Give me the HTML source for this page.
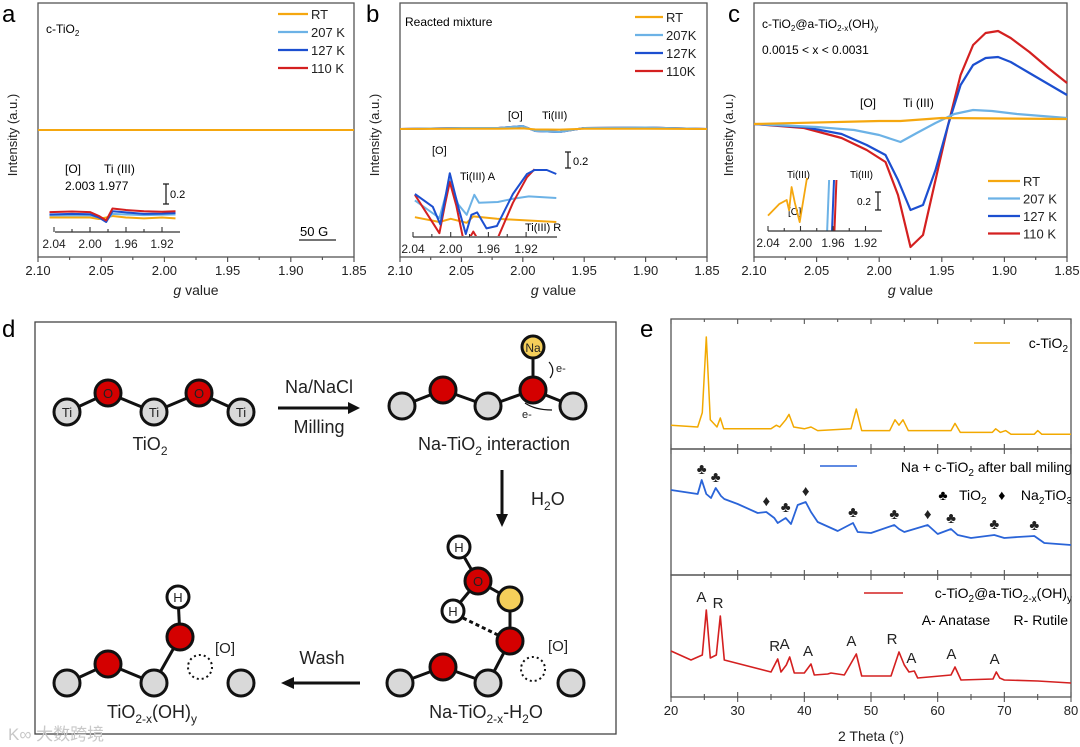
<!DOCTYPE html>
<html><head><meta charset="utf-8"><style>
body{margin:0;background:#fff}
svg{display:block;font-family:"Liberation Sans","Noto Sans CJK SC",sans-serif}
.pre{white-space:pre}
</style></head><body>
<svg id="fig" width="1080" height="747" viewBox="0 0 1080 747" xmlns="http://www.w3.org/2000/svg">
<g id="static">
<text x="2" y="22" font-size="24">a</text>
<text x="366" y="22" font-size="24">b</text>
<text x="728" y="22" font-size="24">c</text>
<text x="2" y="337" font-size="24">d</text>
<text x="640" y="337" font-size="24">e</text>

<text x="46" y="33" font-size="12">c-TiO<tspan font-size="8" dy="3">2</tspan></text>
<text x="65" y="173" font-size="12">[O]</text>
<text x="104" y="173" font-size="12">Ti (III)</text>
<text x="65" y="190" font-size="12">2.003 1.977</text>
<g stroke="#222" stroke-width="1.3"><line x1="166" y1="184" x2="166" y2="204"/><line x1="163" y1="184" x2="169" y2="184"/><line x1="163" y1="204" x2="169" y2="204"/></g>
<text x="170" y="198" font-size="11">0.2</text>
<text x="300" y="236" font-size="13">50 G</text>
<line x1="299" y1="240" x2="336" y2="240" stroke="#222" stroke-width="1.2"/>

<text x="405" y="26" font-size="12">Reacted mixture</text>
<text x="508" y="119" font-size="11">[O]</text>
<text x="542" y="119" font-size="11">Ti(III)</text>
<text x="432" y="154" font-size="11">[O]</text>
<text x="460" y="180" font-size="11">Ti(III) A</text>
<text x="525" y="231" font-size="11">Ti(III) R</text>
<g stroke="#222" stroke-width="1.3"><line x1="568" y1="152" x2="568" y2="168"/><line x1="565" y1="152" x2="571" y2="152"/><line x1="565" y1="168" x2="571" y2="168"/></g>
<text x="573" y="165" font-size="11">0.2</text>

<text x="762" y="28" font-size="12">c-TiO<tspan font-size="8" dy="3">2</tspan><tspan dy="-3">@a-TiO</tspan><tspan font-size="8" dy="3">2-x</tspan><tspan dy="-3">(OH)</tspan><tspan font-size="8" dy="3">y</tspan></text>
<text x="762" y="54" font-size="12">0.0015 &lt; x &lt; 0.0031</text>
<text x="860" y="107" font-size="12">[O]</text>
<text x="903" y="107" font-size="12">Ti (III)</text>
<text x="787" y="178" font-size="10">Ti(III)</text>
<text x="788" y="215" font-size="10">[O]</text>
<text x="850" y="178" font-size="10">Ti(III)</text>
<text x="857" y="205" font-size="10">0.2</text>
<g stroke="#222" stroke-width="1.3"><line x1="878" y1="192" x2="878" y2="210"/><line x1="875" y1="192" x2="881" y2="192"/><line x1="875" y1="210" x2="881" y2="210"/></g>

<rect x="35" y="322" width="581" height="412" fill="none" stroke="#444" stroke-width="1.3"/>
<g id="scheme" stroke="#111" stroke-width="3">
 <g>
  <line x1="67" y1="412" x2="108" y2="393"/><line x1="108" y1="393" x2="154" y2="412"/><line x1="154" y1="412" x2="199" y2="393"/><line x1="199" y1="393" x2="241" y2="412"/>
  <circle cx="67" cy="412" r="13" fill="#d9d9d9"/><circle cx="154" cy="412" r="13" fill="#d9d9d9"/><circle cx="241" cy="412" r="13" fill="#d9d9d9"/>
  <circle cx="108" cy="393" r="13" fill="#d40000"/><circle cx="199" cy="393" r="13" fill="#d40000"/>
 </g>
 <g font-size="13" fill="#222" stroke="none" text-anchor="middle">
  <text x="67" y="417">Ti</text><text x="154" y="417">Ti</text><text x="241" y="417">Ti</text>
  <text x="108" y="398">O</text><text x="199" y="398">O</text>
 </g>
 <g>
  <line x1="402" y1="406" x2="443" y2="390"/><line x1="443" y1="390" x2="488" y2="406"/><line x1="488" y1="406" x2="533" y2="390"/><line x1="533" y1="390" x2="573" y2="406"/><line x1="533" y1="390" x2="533" y2="348"/>
  <circle cx="402" cy="406" r="13" fill="#d9d9d9"/><circle cx="488" cy="406" r="13" fill="#d9d9d9"/><circle cx="573" cy="406" r="13" fill="#d9d9d9"/>
  <circle cx="443" cy="390" r="13" fill="#d40000"/><circle cx="533" cy="390" r="13" fill="#d40000"/>
  <circle cx="533" cy="347" r="11" fill="#f5cf5a"/>
 </g>
 <text x="533" y="352" font-size="12" fill="#222" stroke="none" text-anchor="middle">Na</text>
 <path d="M549 362 Q556 370 550 378" fill="none" stroke-width="1.2"/>
 <text x="556" y="372" font-size="11" fill="#222" stroke="none">e-</text>
 <path d="M525 403 Q535 410 552 410" fill="none" stroke-width="1.2"/>
 <text x="522" y="418" font-size="11" fill="#222" stroke="none">e-</text>
 <g>
  <line x1="400" y1="683" x2="443" y2="667"/><line x1="443" y1="667" x2="488" y2="683"/><line x1="488" y1="683" x2="510" y2="641"/><line x1="510" y1="641" x2="510" y2="599"/><line x1="510" y1="599" x2="478" y2="581"/><line x1="478" y1="581" x2="459" y2="548"/><line x1="478" y1="581" x2="453" y2="611"/>
  <line x1="463" y1="618" x2="500" y2="636" stroke-dasharray="4 3"/>
  <circle cx="400" cy="683" r="13" fill="#d9d9d9"/><circle cx="488" cy="683" r="13" fill="#d9d9d9"/><circle cx="571" cy="683" r="13" fill="#d9d9d9"/>
  <circle cx="443" cy="667" r="13" fill="#d40000"/><circle cx="510" cy="641" r="13" fill="#d40000"/>
  <circle cx="510" cy="599" r="12" fill="#f5cf5a"/><circle cx="478" cy="581" r="13" fill="#d40000"/>
  <circle cx="459" cy="547" r="11" fill="#fff"/><circle cx="453" cy="611" r="11" fill="#fff"/>
  <circle cx="533" cy="669" r="12" fill="none" stroke-width="2" stroke-dasharray="2 3"/>
 </g>
 <g font-size="13" fill="#222" stroke="none" text-anchor="middle">
  <text x="459" y="552">H</text><text x="453" y="616">H</text><text x="478" y="586">O</text>
 </g>
 <text x="548" y="651" font-size="15" fill="#222" stroke="none">[O]</text>
 <g>
  <line x1="67" y1="683" x2="108" y2="664"/><line x1="108" y1="664" x2="154" y2="683"/><line x1="154" y1="683" x2="180" y2="637"/><line x1="180" y1="637" x2="178" y2="597"/>
  <circle cx="67" cy="683" r="13" fill="#d9d9d9"/><circle cx="154" cy="683" r="13" fill="#d9d9d9"/><circle cx="241" cy="683" r="13" fill="#d9d9d9"/>
  <circle cx="108" cy="664" r="13" fill="#d40000"/><circle cx="180" cy="637" r="13" fill="#d40000"/>
  <circle cx="178" cy="597" r="11" fill="#fff"/>
  <circle cx="200" cy="667" r="12" fill="none" stroke-width="2" stroke-dasharray="2 3"/>
 </g>
 <text x="178" y="602" font-size="13" fill="#222" stroke="none" text-anchor="middle">H</text>
 <text x="215" y="653" font-size="15" fill="#222" stroke="none">[O]</text>
 <g><line x1="278" y1="408" x2="350" y2="408"/><polygon points="360,408 348,402 348,414" fill="#111" stroke="none"/></g>
 <g><line x1="502" y1="470" x2="502" y2="516"/><polygon points="502,527 496,514 508,514" fill="#111" stroke="none"/></g>
 <g><line x1="360" y1="683" x2="292" y2="683"/><polygon points="281,683 294,677 294,689" fill="#111" stroke="none"/></g>
 <g fill="#222" stroke="none" font-size="18" text-anchor="middle">
  <text x="319" y="393">Na/NaCl</text>
  <text x="319" y="433">Milling</text>
  <text x="322" y="664">Wash</text>
  <text x="150" y="450">TiO<tspan font-size="12" dy="5">2</tspan></text>
  <text x="494" y="450">Na-TiO<tspan font-size="12" dy="5">2</tspan><tspan dy="-5"> interaction</tspan></text>
  <text x="152" y="718">TiO<tspan font-size="12" dy="5">2-x</tspan><tspan dy="-5">(OH)</tspan><tspan font-size="12" dy="5">y</tspan></text>
  <text x="486" y="718">Na-TiO<tspan font-size="12" dy="5">2-x</tspan><tspan dy="-5">-H</tspan><tspan font-size="12" dy="5">2</tspan><tspan dy="-5">O</tspan></text>
  <text x="531" y="505" text-anchor="start">H<tspan font-size="12" dy="5">2</tspan><tspan dy="-5">O</tspan></text>
 </g>
</g>
<text x="8" y="740" font-size="17" fill="#c8c8c8">K∞ 大数跨境</text>

<text x="1068" y="348" font-size="14" text-anchor="end">c-TiO<tspan font-size="10" dy="4">2</tspan></text>
<line x1="974" y1="343" x2="1010" y2="343" stroke="#f2a900" stroke-width="1.5"/>
<text x="1072" y="472" font-size="14" text-anchor="end">Na + c-TiO<tspan font-size="10" dy="4">2</tspan><tspan dy="-4"> after ball miling</tspan></text>
<line x1="820" y1="466" x2="857" y2="466" stroke="#2a64d8" stroke-width="1.5"/>
<text x="1072" y="500" font-size="14" text-anchor="end" class="pre">♣   TiO<tspan font-size="10" dy="4">2</tspan><tspan dy="-4">   ♦    Na</tspan><tspan font-size="10" dy="4">2</tspan><tspan dy="-4">TiO</tspan><tspan font-size="10" dy="4">3</tspan></text>
<text x="1072" y="598" font-size="14" text-anchor="end">c-TiO<tspan font-size="10" dy="4">2</tspan><tspan dy="-4">@a-TiO</tspan><tspan font-size="10" dy="4">2-x</tspan><tspan dy="-4">(OH)</tspan><tspan font-size="10" dy="4">y</tspan></text>
<line x1="864" y1="593" x2="903" y2="593" stroke="#d42020" stroke-width="1.5"/>
<text x="1068" y="625" font-size="14" text-anchor="end" class="pre">A- Anatase      R- Rutile</text>
</g>
<g id="charts"></g>
</svg>
<script>
const seriesNames = ["RT","207 K","127 K","110 K"];
const seriesColors = ["#f5a70f","#6cb2e6","#1c4fd0","#d42020"];
const aMainG = [2.10,1.85];
const aMainY = [0,0];
const aInsetG = [2.045,2.02,2.00,1.99,1.982,1.975,1.96,1.94,1.92,1.905];
const aInsetRT  = [-1.5,-1.5,-1.5,-2,-1.5,-1,-1.5,-1.8,-1.5,-1.8];
const aInset207 = [-0.8,-0.8,-0.8,-1.5,-2.5,-0.3,-0.5,-0.7,-0.6,-0.5];
const aInset127 = [-0.5,-0.3,-0.4,-1.5,-3,0.6,0.2,-0.3,-0.2,0];
const aInset110 = [0.3,0.5,0.3,-1,-2.5,1.5,1.0,0.6,0.4,0.6];
const bMainG = [2.10,2.05,2.02,2.00,1.99,1.97,1.95,1.90,1.85];
const bMainY = [0,0.1,0.1,0.3,-0.2,-0.3,0.1,0.15,0];
const bInsetG110 = [2.038,2.012,2.006,2.001,1.994,1.987,1.980,1.976,1.972,1.950,1.934,1.919,1.911];
const bInset110  = [-0.6,-5.4,-1.8,1.0,-2.0,-6,-6,-5.2,-6,-6,-1.6,1.6,2.6];
const bInsetG127 = [2.038,2.019,2.011,2.001,1.992,1.984,1.978,1.972,1.962,1.951,1.934,1.919,1.911,1.898,1.888];
const bInset127  = [-0.5,-2.1,-4.3,2.1,-2.1,-5.5,-3.1,-2.8,-4.8,-4.5,-0.5,2.0,2.5,2.5,2.0];
const bInsetG207 = [2.038,2.012,2.001,1.992,1.983,1.975,1.970,1.950,1.934,1.917,1.888];
const bInset207  = [-1.3,-3.5,1.2,-1.8,-3.1,-0.6,-1.6,-1.5,-1.1,-0.8,-1.0];
const bInsetGRT  = [2.038,2.012,2.000,1.983,1.976,1.951,1.888];
const bInsetRT   = [-3.4,-4.0,-3.6,-4.1,-3.3,-3.6,-4.0];
const cMainG = [2.10,2.06,2.03,2.01,1.995,1.985,1.975,1.965,1.955,1.945,1.935,1.925,1.915,1.905,1.895,1.88,1.865,1.85];
const c110 = [0,-4,-14,-26,-38,-71,-123,-111,-56,-1,49,79,91,93,86,72,56,41];
const c127 = [0,-3,-10,-21,-31,-56,-86,-81,-46,-1,39,59,66,67,62,51,40,29];
const cG207 = [2.10,2.05,2.02,2.00,1.983,1.97,1.955,1.94,1.925,1.91,1.89,1.85];
const c207 = [0,-3,-6,-11,-18,-9,1,10,14,13,10,6];
const cGRT = [2.10,2.00,1.983,1.95,1.85];
const cRT  = [0,3,3,6,5];
const cInsetG = [2.040,2.026,2.017,2.014,2.011,2.007,2.001,1.992];
const cInsetRT = [-2.4,-0.6,0,-1.6,2.0,-0.4,-3.4,3.4];
const cInsetLineG = [1.966,1.960,1.957];

const xrdTheta1 = [20,24,24.7,25.3,25.9,26.9,27.4,27.9,35,35.8,36.3,37.2,37.7,38.4,40,41,42,47,47.8,48.6,52.8,53.6,54.2,54.8,55.6,62,62.6,63.4,68.2,68.7,69.4,70.2,71,74.5,75,75.6,80];
const xrdInt1  = [101,100,108,150,104,100,105,99,99,101,100,104,107,100,99,100,98,99,110,98,98,104,101,104,98,98,102,97,97,99,97,98,96,96,98,96,96];
const xrdTheta2 = [20,22,24,24.6,25.3,26,26.7,27.5,28,30,33,34.3,35.5,36,37.2,38,39,40.2,41,42,45,47.3,48,50,53.5,54.2,55,57,58.5,60,62,63,65,68.5,70,72,74.5,76,80];
const xrdInt2  = [70,68,66,80,66,62,72,64,61,56,47,48,42,37,42,36,55,58,48,38,29,37,28,27,35,31,28,32,35,26,31,25,22,25,22,23,24,17,15];
const xrdTheta3 = [20,23,24.7,25.3,25.9,26.8,27.4,28,35,36,36.5,37.3,37.8,38.5,40,41,41.5,43.5,44,46,47.8,48.6,53,54.2,55,55.7,56.5,57,62,62.6,63.5,68.3,68.8,69.3,70,75,80];
const xrdInt3  = [44,35,40,85,37,40,79,35,23,36,23,30,38,22,22,31,20,21,22,20,41,19,19,43,30,23,24,17,20,28,15,16,23,17,15,14,12];
const markers2 = [[24.6,"♣"],[26.7,"♣"],[34.3,"♦"],[37.2,"♣"],[40.2,"♦"],[47.3,"♣"],[53.5,"♣"],[58.5,"♦"],[62,"♣"],[68.5,"♣"],[74.5,"♣"]];
const markers3 = [[25,"A"],[27.5,"R"],[36,"R"],[37.5,"A"],[41,"A"],[47.5,"A"],[53.6,"R"],[56.5,"A"],[62.5,"A"],[69,"A"]];
const gTicks = ["2.10","2.05","2.00","1.95","1.90","1.85"];
const thetaTicks = ["20","30","40","50","60","70","80"];
const insetTicks = ["2.04","2.00","1.96","1.92"];

const NS="http://www.w3.org/2000/svg";
const root=document.getElementById('charts');
function mk(tag,attrs,parent){const e=document.createElementNS(NS,tag);for(const k in attrs)e.setAttribute(k,attrs[k]);(parent||root).appendChild(e);return e;}
function txt(x,y,s,size,anchor,parent){const t=mk('text',{x:x,y:y,'font-size':size,'text-anchor':anchor||'middle',fill:'#222'},parent);t.textContent=s;return t;}
function pathFrom(xs,ys,fx,fy){return xs.map((v,i)=>(i?'L':'M')+fx(v).toFixed(1)+' '+fy(ys[i]).toFixed(1)).join(' ');}

function eprPanel(key,L,R,T,B){
  const g=mk('g',{});
  
  
  const fr=mk('rect',{x:L,y:T,width:R-L,height:B-T,fill:'none',stroke:'#555','stroke-width':1.3},g);
  
  
  const x=v=>L+(2.10-v)/0.25*(R-L);
  for(let i=0;i<=10;i++){const gv=2.10-i*0.025;const major=i%2==0;mk('line',{x1:x(gv),x2:x(gv),y1:B,y2:B+(major?5:3),stroke:'#555','stroke-width':1.2},g);}
  gTicks.forEach(s=>{const t=txt(x(+s),B+18,s,13,'middle',g);});
  const xt=mk('text',{x:(L+R)/2,y:B+38,'font-size':14,'text-anchor':'middle',fill:'#222'},g);
  xt.innerHTML='<tspan font-style="italic">g</tspan> value';
  
  
  const yt=mk('text',{x:0,y:0,'font-size':13,'text-anchor':'middle',fill:'#222',transform:`translate(${L-21},${(T+B)/2+5}) rotate(-90)`},g);
  yt.textContent='Intensity (a.u.)';
  
  
  return {g,x};
}
function legend(g,x0,y0,dy,labels,len){
  labels.forEach((s,i)=>{
    const l=mk('line',{x1:x0,x2:x0+len,y1:y0+i*dy,y2:y0+i*dy,stroke:seriesColors[i],'stroke-width':2.2},g);
    
    
    const t=txt(x0+len+3,y0+i*dy+5,s,13,'start',g);
    
    
  });
}
function insetAxis(g,x0,x1,y,fx){
  mk('line',{x1:x0,x2:x1,y1:y,y2:y,stroke:'#333','stroke-width':1.2},g);
  for(let i=0;i<7;i++){const gv=2.04-i*0.02;mk('line',{x1:fx(gv),x2:fx(gv),y1:y,y2:y-(i%2?3:5),stroke:'#333','stroke-width':1.1},g);}
  insetTicks.forEach(s=>{const t=txt(fx(+s),y+16,s,12,'middle',g);});
}
function line(g,d,color,w,name){const p=mk('path',{d:d,fill:'none',stroke:color,'stroke-width':w,'stroke-linejoin':'round'},g);return p;}

(function(){
  const {g,x}=eprPanel('a',38,354,3,257);
  const y=v=>130-v*10;
  [3,2,1,0].forEach(i=>line(g,pathFrom(aMainG,aMainY,x,y),seriesColors[i],2,'trace-a-'+i));
  legend(g,278,14,18,["RT","207 K","127 K","110 K"],30);
  const ix=v=>54+(2.04-v)/0.04*36; const iy=v=>213-v*3;
  insetAxis(g,55,180,232,ix);
  [aInsetRT,aInset207,aInset127,aInset110].forEach((s,i)=>line(g,pathFrom(aInsetG,s,ix,iy),seriesColors[i],2,'inset-trace-a-'+i));
})();
(function(){
  const {g,x}=eprPanel('b',400,707,3,257);
  const y=v=>129-v*10;
  [3,2,1,0].forEach(i=>line(g,pathFrom(bMainG,bMainY.map(v=>v*(i?1:0.2)),x,y),seriesColors[i],2,'trace-b-'+i));
  legend(g,635,17,18,["RT","207K","127K","110K"],28);
  const ix=v=>413+(2.04-v)/0.04*37.7; const iy=v=>190-v*8;
  const cp=mk('clipPath',{id:'clipb'},g); mk('rect',{x:400,y:140,width:170,height:96},cp);
  const ig=mk('g',{'clip-path':'url(#clipb)'},g);
  line(ig,pathFrom(bInsetGRT,bInsetRT,ix,iy),seriesColors[0],2,'inset-trace-b-rt');
  line(ig,pathFrom(bInsetG207,bInset207,ix,iy),seriesColors[1],2,'inset-trace-b-207');
  line(ig,pathFrom(bInsetG110,bInset110,ix,iy),seriesColors[3],2,'inset-trace-b-110');
  line(ig,pathFrom(bInsetG127,bInset127,ix,iy),seriesColors[2],2,'inset-trace-b-127');
  insetAxis(g,413,557,237,ix);
})();
(function(){
  const {g,x}=eprPanel('c',754,1067,3,257);
  const y=v=>124-v;
  line(g,pathFrom(cMainG,c110,x,y),seriesColors[3],2.2,'trace-c-110');
  line(g,pathFrom(cMainG,c127,x,y),seriesColors[2],2.2,'trace-c-127');
  line(g,pathFrom(cG207,c207,x,y),seriesColors[1],2.2,'trace-c-207');
  line(g,pathFrom(cGRT,cRT,x,y),seriesColors[0],2.2,'trace-c-rt');
  legend(g,988,181,17.5,["RT","207 K","127 K","110 K"],32);
  const ix=v=>768+(2.04-v)/0.04*32.5; const iy=v=>200-v*6.5;
  line(g,pathFrom(cInsetG,cInsetRT,ix,iy),seriesColors[0],1.8,'inset-trace-c-rt');
  cInsetLineG.forEach((gv,i)=>line(g,`M${ix(gv)-1} 231 L${ix(gv)+1} 180`,seriesColors[i+1],2,'inset-line-c-'+i));
  insetAxis(g,768,882,231,ix);
})();
(function(){
  const L=671,R=1071,T=319,B=697;
  const g=mk('g',{});
  
  
  const x=v=>L+(v-20)/60*(R-L);
  const subs=[[319,449],[449,575],[575,697]];
  subs.forEach(([a,b],k)=>{const r=mk('rect',{x:L,y:a,width:R-L,height:b-a,fill:'none',stroke:'#555','stroke-width':1.3},g);
    for(let t=20;t<=80;t+=5){mk('line',{x1:x(t),x2:x(t),y1:b,y2:b-(t%10?3:5),stroke:'#555','stroke-width':1.1},g);mk('line',{x1:x(t),x2:x(t),y1:a,y2:a+(t%10?3:5),stroke:'#555','stroke-width':1.1},g);}});
  for(let t=20;t<=80;t+=5)mk('line',{x1:x(t),x2:x(t),y1:B,y2:B+(t%10?3:5),stroke:'#555','stroke-width':1.1},g);
  thetaTicks.forEach(s=>{const t=txt(x(+s),B+18,s,13,'middle',g);});
  const xt=txt((L+R)/2,741,'2 Theta (°)',14,'middle',g);
  
  
  const y1=v=>427-(v-100)*1.8; const y2=v=>560-v; const y3=v=>695-v;
  line(g,pathFrom(xrdTheta1,xrdInt1,x,y1),'#f2a900',1.5,'xrd-trace-ctio2');
  line(g,pathFrom(xrdTheta2,xrdInt2,x,y2),'#2a64d8',1.8,'xrd-trace-ball-milled');
  line(g,pathFrom(xrdTheta3,xrdInt3,x,y3),'#d42020',1.6,'xrd-trace-product');
  markers2.forEach(([t,s])=>{const i=xrdTheta2.indexOf(t);const yy=y2(xrdInt2[i])-6;const m=txt(x(t),yy,s,15,'middle',g);});
  markers3.forEach(([t,s])=>{let mx=0;xrdTheta3.forEach((v,i)=>{if(Math.abs(v-t)<=0.8&&xrdInt3[i]>mx)mx=xrdInt3[i];});const yy=y3(mx)-8;const m=txt(x(t)-3,yy,s,15,'middle',g);});
})();
</script>
</body></html>
